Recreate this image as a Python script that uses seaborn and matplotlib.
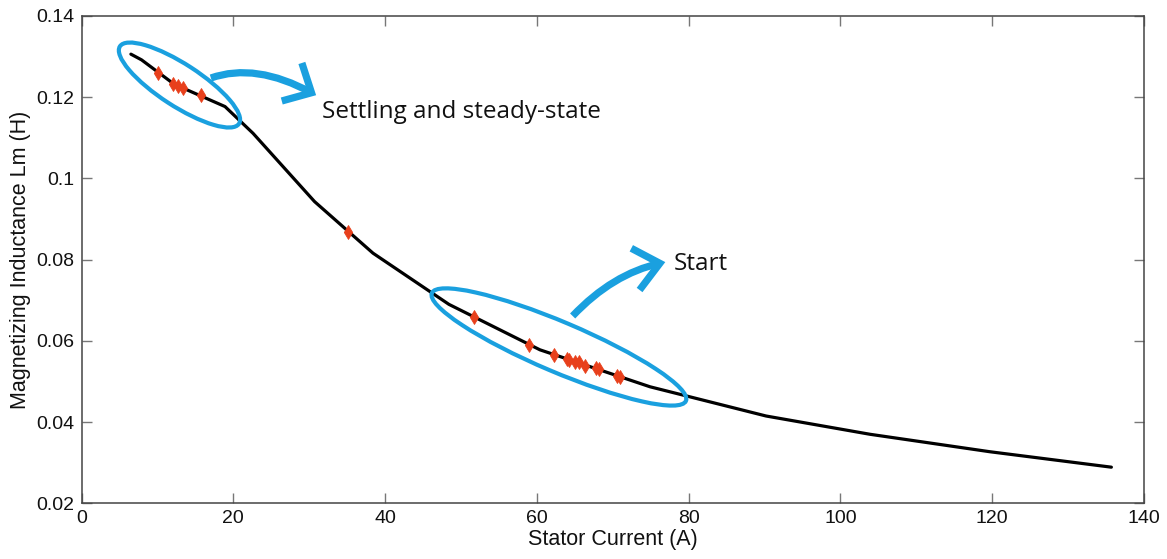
import numpy as np
import pandas as pd
import matplotlib
matplotlib.use("Agg")
import matplotlib.pyplot as plt
import seaborn as sns
from matplotlib.patches import Ellipse, PathPatch
from matplotlib.path import Path
from matplotlib import transforms as mtransforms

# Lm(Is) magnetizing curve breakpoints
curve_current = [6.5, 7.9, 12.2, 18.9, 22.6, 30.7, 38.4, 48.4, 60.4, 74.9, 90.2, 103.9, 119.7, 135.7]
curve_lm = [0.1306, 0.1292, 0.1232, 0.1177, 0.1111, 0.0943, 0.0816, 0.0690,
            0.0578, 0.0487, 0.0415, 0.0370, 0.0327, 0.0289]

# Operating points visited during the run
op_current = [10.1, 12.1, 12.7, 13.3, 15.7, 35.1, 51.7, 59.0, 62.3, 64.0, 64.2,
              65.0, 65.5, 66.4, 67.8, 68.2, 70.5, 71.0]
op_lm = [0.1259, 0.1233, 0.1228, 0.1222, 0.1205, 0.0868, 0.0658, 0.0590, 0.0565,
         0.0555, 0.0554, 0.0549, 0.0548, 0.0538, 0.0532, 0.0530, 0.0514, 0.0512]

x_ticks = [0, 20, 40, 60, 80, 100, 120, 140]
y_ticks = [0.02, 0.04, 0.06, 0.08, 0.1, 0.12, 0.14]
y_tick_labels = ["0.02", "0.04", "0.06", "0.08", "0.1", "0.12", "0.14"]

CYAN = "#1AA0DF"
RED = "#E8401C"

sns.set_theme(style="white")
plt.rcParams["font.family"] = ["Liberation Sans", "DejaVu Sans"]

fig = plt.figure(figsize=(11.67, 5.59), dpi=100)
ax = fig.add_axes([0.0699, 0.0996, 0.9104, 0.8718])

curve = pd.DataFrame({"Is": curve_current, "Lm": curve_lm})
ops = pd.DataFrame({"Is": op_current, "Lm": op_lm})

sns.lineplot(data=curve, x="Is", y="Lm", ax=ax, color="black", lw=2.3,
             sort=False, estimator=None, zorder=2)
sns.scatterplot(data=ops, x="Is", y="Lm", ax=ax, marker="d", s=50,
                color=RED, edgecolor=RED, linewidth=0.6, zorder=4)

ax.set_xlim(0, 140)
ax.set_ylim(0.02, 0.14)
ax.set_xticks(x_ticks)
ax.set_xticklabels([str(v) for v in x_ticks])
ax.set_yticks(y_ticks)
ax.set_yticklabels(y_tick_labels)
ax.tick_params(direction="in", length=7.5, width=1, color="#777777",
               labelsize=14, labelcolor="#111111", top=True, right=True,
               bottom=True, left=True, pad=5)
for s in ax.spines.values():
    s.set_color("#444444")
    s.set_linewidth(1.1)

ax.set_xlabel("Stator Current (A)", fontsize=15.5, color="#111111", labelpad=1)
ax.set_ylabel("Magnetizing Inductance Lm (H)", fontsize=15.5, color="#111111", labelpad=4)


def ellipse_at(x, y, w_px, h_px, angle):
    """Ellipse sized in pixels, centred on a data point."""
    tr = mtransforms.Affine2D() + mtransforms.ScaledTranslation(x, y, ax.transData)
    e = Ellipse((0, 0), w_px, h_px, angle=angle, transform=tr, fill=False,
                edgecolor=CYAN, lw=3.0, zorder=3, clip_on=False)
    ax.add_patch(e)


ellipse_at(12.9, 0.1230, 142, 42, -33)
ellipse_at(62.9, 0.0585, 276, 50, -23)


def curved_arrow(start, ctrl, tip, arm_a, arm_b):
    body = Path([start, ctrl, tip], [Path.MOVETO, Path.CURVE3, Path.CURVE3])
    ax.add_patch(PathPatch(body, fill=False, edgecolor=CYAN, lw=5.2,
                           capstyle="butt", zorder=3, clip_on=False))
    head = Path([arm_a, tip, arm_b], [Path.MOVETO, Path.LINETO, Path.LINETO])
    ax.add_patch(PathPatch(head, fill=False, edgecolor=CYAN, lw=5.2,
                           joinstyle="miter", capstyle="butt", zorder=3, clip_on=False))


curved_arrow((17.04, 0.12473), (22.94, 0.12860), (30.3, 0.12110),
             (29.03, 0.12843), (26.38, 0.11907))
curved_arrow((64.71, 0.06613), (69.95, 0.07649), (76.2, 0.07910),
             (72.44, 0.08280), (73.53, 0.07253))

ax.text(31.66, 0.1164, "Settling and steady-state", fontsize=17.5,
        family=["Open Sans", "DejaVu Sans"], va="center", ha="left", color="#111111")
ax.text(78.0, 0.0789, "Start", fontsize=17.5,
        family=["Open Sans", "DejaVu Sans"], va="center", ha="left", color="#111111")

fig.savefig("out.png", dpi=100)
